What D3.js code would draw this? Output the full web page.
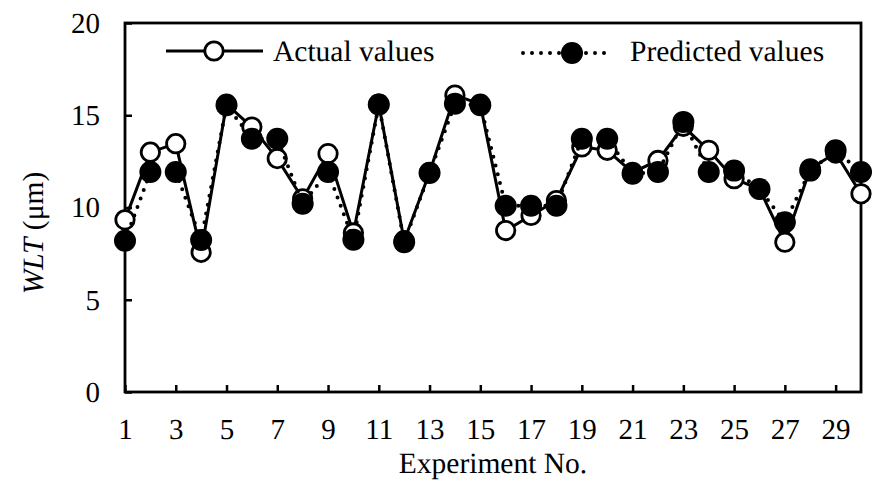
<!DOCTYPE html>
<html>
<head>
<meta charset="utf-8">
<script src="https://cdn.jsdelivr.net/npm/d3@7"></script>
<style>
  body { margin: 0; background: #fff; }
  svg { font-family: "Liberation Serif", "Times New Roman", serif; }
  text { fill: #000; text-rendering: geometricPrecision; }
</style>
</head>
<body>
<div id="chart"></div>
<script>
// 实验编号与数值
const experiments = d3.range(1, 31);
const actualValues = [9.33, 13.0, 13.46, 7.57, 15.6, 14.36, 12.65, 10.47, 12.92, 8.62,
                      15.6, 8.2, 11.9, 16.09, 15.6, 8.75, 9.57, 10.38, 13.28, 13.1,
                      11.9, 12.55, 14.4, 13.1, 11.56, 11.0, 8.12, 12.1, 12.95, 10.74];
const predictedValues = [8.2, 11.92, 11.92, 8.24, 15.54, 13.73, 13.73, 10.2, 11.92, 8.25,
                         15.58, 8.12, 11.87, 15.63, 15.54, 10.1, 10.1, 10.1, 13.73, 13.73,
                         11.83, 11.92, 14.64, 11.92, 12.0, 11.0, 9.2, 12.0, 13.1, 11.92];
const xTicks = [1, 3, 5, 7, 9, 11, 13, 15, 17, 19, 21, 23, 25, 27, 29];
const yTicks = [0, 5, 10, 15, 20];
const seriesNames = ["Actual values", "Predicted values"];

const width = 877;
const height = 481;
const margin = { top: 23, right: 16, bottom: 89, left: 125 };
const fontSize = 29;
const legendFont = 29.5;

const svg = d3.select("#chart").append("svg")
    .attr("width", width)
    .attr("height", height);

const x = d3.scaleLinear().domain([1, 30]).range([margin.left, width - margin.right]);
const y = d3.scaleLinear().domain([0, 20]).range([height - margin.bottom, margin.top]);

// 坐标轴
const yAxis = svg.append("g")
    .attr("transform", `translate(${margin.left},0)`)
    .call(d3.axisLeft(y).tickValues(yTicks).tickSizeInner(-7).tickSizeOuter(0).tickPadding(25));
const xAxis = svg.append("g")
    .attr("transform", `translate(0,${height - margin.bottom})`)
    .call(d3.axisBottom(x).tickValues(xTicks).tickSizeInner(-7).tickSizeOuter(0).tickPadding(26));

[xAxis, yAxis].forEach(g => {
    g.attr("font-family", null);
    g.select(".domain").remove();
    g.selectAll("line").attr("stroke", "#000").attr("stroke-width", 2.5);
    g.selectAll("text")
        .attr("fill", "#000")
        .style("font-size", fontSize + "px")
        .style("font-family", "'Liberation Serif', serif");
});

// 外框
svg.append("rect")
    .attr("x", margin.left)
    .attr("y", margin.top)
    .attr("width", width - margin.left - margin.right)
    .attr("height", height - margin.top - margin.bottom)
    .attr("fill", "none")
    .attr("stroke", "#000")
    .attr("stroke-width", 2.8);

// 坐标轴标题
svg.append("text")
    .attr("x", (margin.left + width - margin.right) / 2)
    .attr("y", 473)
    .attr("text-anchor", "middle")
    .attr("fill", "#000")
    .style("font-size", legendFont + "px")
    .text("Experiment No.");

const yTitle = svg.append("text")
    .attr("transform", "translate(43,233) rotate(-90)")
    .attr("text-anchor", "middle")
    .attr("fill", "#000")
    .style("font-size", legendFont + "px");
yTitle.append("tspan").style("font-style", "italic").attr("fill", "#000").text("WLT");
yTitle.append("tspan").attr("fill", "#000").text(" (μm)");

// 折线
const line = d3.line().x((d, i) => x(experiments[i])).y(d => y(d));

svg.append("path")
    .datum(actualValues)
    .attr("d", line)
    .attr("fill", "none")
    .attr("stroke", "#000")
    .attr("stroke-width", 3);

svg.selectAll("circle.actual")
    .data(actualValues)
    .enter().append("circle")
    .attr("class", "actual")
    .attr("cx", (d, i) => x(experiments[i]))
    .attr("cy", d => y(d))
    .attr("r", 9.2)
    .attr("fill", "#fff")
    .attr("stroke", "#000")
    .attr("stroke-width", 2.8);

svg.append("path")
    .datum(predictedValues)
    .attr("d", line)
    .attr("fill", "none")
    .attr("stroke", "#000")
    .attr("stroke-width", 4)
    .attr("stroke-linecap", "round")
    .attr("stroke-dasharray", "0,9");

svg.selectAll("circle.pred")
    .data(predictedValues)
    .enter().append("circle")
    .attr("class", "pred")
    .attr("cx", (d, i) => x(experiments[i]))
    .attr("cy", d => y(d))
    .attr("r", 11)
    .attr("fill", "#000");

// 图例
const legend = svg.append("g");
legend.append("line")
    .attr("x1", 166).attr("x2", 263).attr("y1", 51).attr("y2", 51)
    .attr("stroke", "#000").attr("stroke-width", 3);
legend.append("circle")
    .attr("cx", 214).attr("cy", 51).attr("r", 9.2)
    .attr("fill", "#fff").attr("stroke", "#000").attr("stroke-width", 2.8);
legend.append("text")
    .attr("x", 273).attr("y", 61)
    .style("font-size", legendFont + "px")
    .text(seriesNames[0]);

legend.append("line")
    .attr("x1", 523).attr("x2", 613).attr("y1", 53).attr("y2", 53)
    .attr("stroke", "#000").attr("stroke-width", 4)
    .attr("stroke-linecap", "round").attr("stroke-dasharray", "0,9");
legend.append("circle")
    .attr("cx", 572).attr("cy", 53).attr("r", 11)
    .attr("fill", "#000");
legend.append("text")
    .attr("x", 630).attr("y", 61)
    .style("font-size", legendFont + "px")
    .text(seriesNames[1]);
</script>
</body>
</html>
